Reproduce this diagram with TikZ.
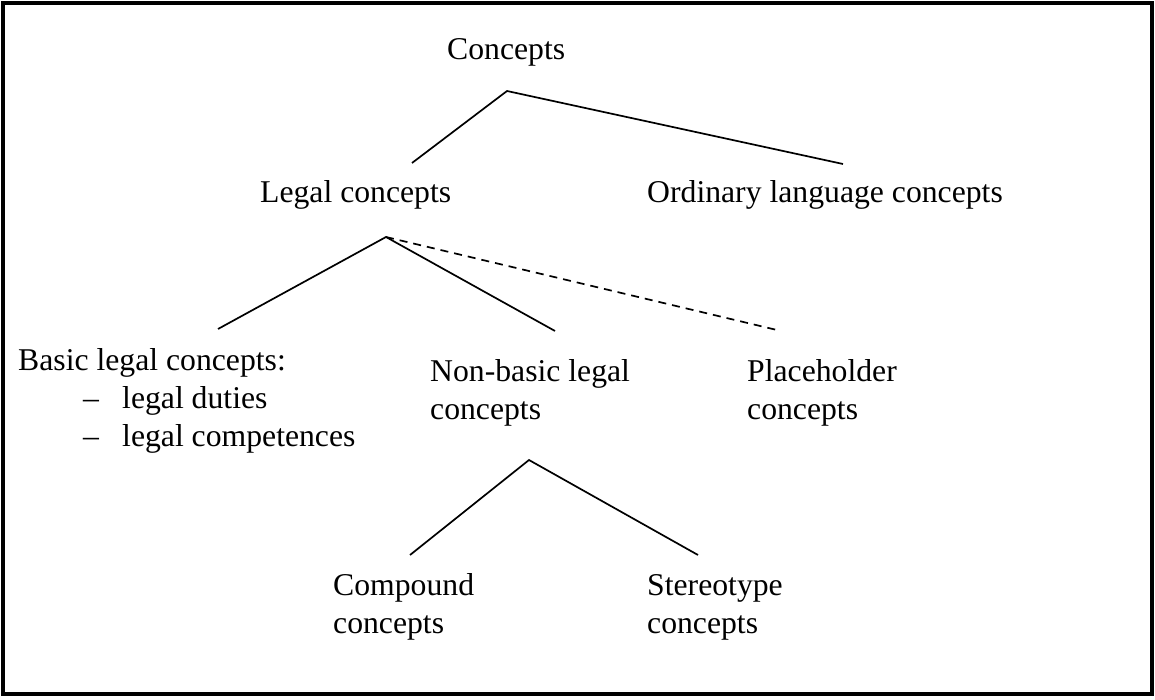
\documentclass[tikz,border=0pt]{standalone}
\usepackage{fontspec}
\setmainfont{Liberation Serif}
\begin{document}
\begin{tikzpicture}[x=1pt,y=-1pt,
  lbl/.style={anchor=base west,inner sep=0pt,font=\fontsize{31.7}{38}\selectfont},
  edge/.style={line width=1.7pt},
  dedge/.style={line width=1.7pt,dash pattern=on 8pt off 6pt}]
\useasboundingbox (0,0) rectangle (1155,700);
\draw[line width=3.5pt] (3,3) rectangle (1152,694);
% labels
\node[lbl] (root) at (447,60) {Concepts};
\node[lbl] (legal) at (260,203) {Legal concepts};
\node[lbl] (ord) at (647,203) {Ordinary language concepts};
\node[lbl] (basic) at (18,370) {\begin{tabular}[t]{@{}l@{}}Basic legal concepts:\\\hspace*{65pt}\makebox[39pt][l]{–}legal duties\\\hspace*{65pt}\makebox[39pt][l]{–}legal competences\end{tabular}};
\node[lbl] (nonbasic) at (430,381) {\begin{tabular}[t]{@{}l@{}}Non-basic legal\\concepts\end{tabular}};
\node[lbl] (place) at (747,381) {\begin{tabular}[t]{@{}l@{}}Placeholder\\concepts\end{tabular}};
\node[lbl] (comp) at (333,595) {\begin{tabular}[t]{@{}l@{}}Compound\\concepts\end{tabular}};
\node[lbl] (stereo) at (647,595) {\begin{tabular}[t]{@{}l@{}}Stereotype\\concepts\end{tabular}};
% connector points
\coordinate (rootA) at (507,91);
\coordinate (legalT) at (412,163);
\coordinate (ordT) at (843,164);
\coordinate (legalA) at (386,237);
\coordinate (basicT) at (218,329);
\coordinate (nonbasicT) at (555,331);
\coordinate (placeT) at (777,330);
\coordinate (nonbasicA) at (529,460);
\coordinate (compT) at (410,555);
\coordinate (stereoT) at (698,555);
\draw[edge] (legalT) -- (rootA) -- (ordT);
\draw[edge] (basicT) -- (legalA) -- (nonbasicT);
\draw[dedge] (legalA) -- (placeT);
\draw[edge] (compT) -- (nonbasicA) -- (stereoT);
\end{tikzpicture}
\end{document}
